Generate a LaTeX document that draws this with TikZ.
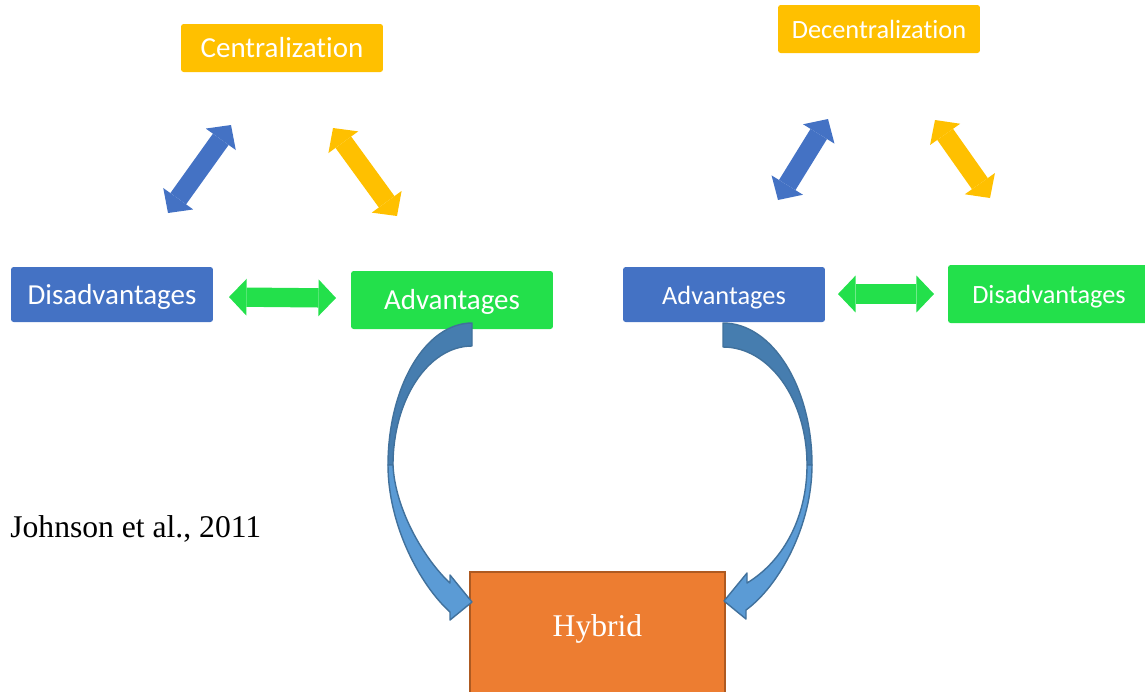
\documentclass[tikz,border=0pt]{standalone}
\usepackage{fontspec}
\setmainfont{Liberation Serif}
\newfontfamily\calibrifont[Ligatures=NoCommon]{Carlito}
\usepackage{tikz}
\usetikzlibrary{arrows.meta,positioning}

\definecolor{boxblue}{HTML}{4472C4}
\definecolor{boxgreen}{RGB}{35,224,75}
\definecolor{boxyellow}{HTML}{FFC000}
\definecolor{boxorange}{HTML}{ED7D31}
\definecolor{orangeedge}{HTML}{AE5A21}
\definecolor{backblue}{HTML}{467DAF}
\definecolor{frontblue}{HTML}{5B9BD5}
\definecolor{curveedge}{HTML}{41719C}

\begin{document}
\begin{tikzpicture}[x=0.02cm,y=-0.02cm,
    box/.style={rounded corners=1.5pt,text=white,inner sep=0pt,minimum width=4.04cm,text height=11pt,text depth=0pt},
    bigtxt/.style={font=\calibrifont\fontsize{16.5}{20}\selectfont},
    smalltxt/.style={font=\calibrifont\fontsize{15}{18}\selectfont},
    dblarrow/.style={line width=11pt,{Triangle[length=10pt,width=21pt,line width=0pt]}-{Triangle[length=10pt,width=21pt,line width=0pt]}},
    curved/.style={draw=curveedge,line width=0.8pt,line join=round}]
        \useasboundingbox (0,0) rectangle (1145,691);
        \clip (0,0) rectangle (1145,691);

        % centralization side
        \node [box,bigtxt,fill=boxyellow,minimum height=0.96cm] (cen) at (282,48) {Centralization};
        \node [box,bigtxt,fill=boxblue,minimum height=1.1cm] (disL) at (112,294.5) {Disadvantages};
        \node [box,bigtxt,fill=boxgreen,minimum height=1.16cm] (advL) at (452,300) {Advantages};

        % decentralization side
        \node [box,smalltxt,fill=boxyellow,minimum height=0.96cm] (decen) at (879,29) {Decentralization};
        \node [box,smalltxt,fill=boxblue,minimum height=1.1cm] (advR) at (724,294.5) {Advantages};
        \node [box,smalltxt,fill=boxgreen,minimum height=1.16cm] (disR) at (1049,294) {Disadvantages};

        % hybrid
        \node [fill=boxorange,draw=orangeedge,line width=1pt,minimum width=5.1cm,minimum height=2.72cm] (hyb) at (597.5,640) {};
        \node [anchor=base,text=white,font=\fontsize{18}{22}\selectfont] (hybtxt) at ([yshift=2pt]hyb.center) {Hybrid};
        \node [anchor=base west,inner sep=0pt,font=\fontsize{18}{22}\selectfont] (cite) at (10,537) {Johnson et al., 2011};

        \coordinate (a1) at (168,213);
        \coordinate (a2) at (231,125);
        \coordinate (b1) at (333,128);
        \coordinate (b2) at (397,216);
        \coordinate (c1) at (229,297);
        \coordinate (c2) at (336,298);
        \coordinate (d1) at (778,200);
        \coordinate (d2) at (828,119);
        \coordinate (e1) at (935,120);
        \coordinate (e2) at (990,198);
        \coordinate (f1) at (838,294);
        \coordinate (f2) at (934,294);

        \draw [dblarrow,boxblue] (a1) -- (a2);
        \draw [dblarrow,boxyellow] (b1) -- (b2);
        \draw [dblarrow,boxgreen] (c1) -- (c2);
        \draw [dblarrow,boxblue] (d1) -- (d2);
        \draw [dblarrow,boxyellow] (e1) -- (e2);
        \draw [dblarrow,boxgreen] (f1) -- (f2);

        % curved arrows into hybrid
        \filldraw [curved,fill=backblue] (472,323) .. controls (425.6,323) and (388,386.6) .. (388,465) -- (393,465) .. controls (393,399.3) and (428.4,346) .. (472,346) -- cycle;
        \filldraw [curved,fill=frontblue] (388,465) .. controls (388,525) and (420,585) .. (450,612) -- (450,620) -- (472,602) -- (450,575) -- (450,583) .. controls (425,560) and (395,510) .. (393,465) -- cycle;
        \filldraw [curved,fill=backblue] (723,323) .. controls (772.1,323) and (812,386.6) .. (812,465) -- (807,465) .. controls (807,399.3) and (769.4,347) .. (723,347) -- cycle;
        \filldraw [curved,fill=frontblue] (812,465) .. controls (812,525) and (780,585) .. (746,610) -- (746,619) -- (724,601) -- (747,573) -- (747,583) .. controls (785,560) and (807,515) .. (807,465) -- cycle;
\end{tikzpicture}
\end{document}
